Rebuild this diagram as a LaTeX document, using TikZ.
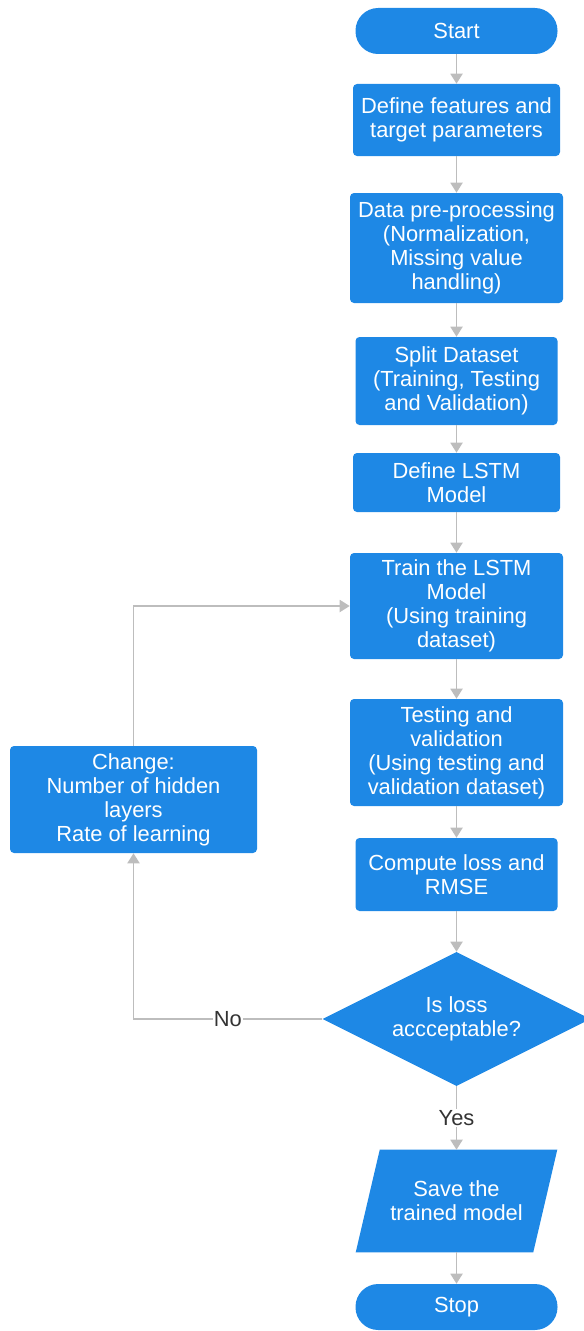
\documentclass[tikz,border=0pt]{standalone}
\usepackage{fontspec}
\setmainfont{Liberation Sans}
\usetikzlibrary{shapes.geometric,arrows.meta,backgrounds,calc}
\definecolor{fcblue}{HTML}{1E88E5}
\definecolor{fcline}{HTML}{BDBDBD}
\definecolor{fctext}{HTML}{333333}
\begin{document}
\begin{tikzpicture}[x=0.75pt,y=-0.75pt,
  txt/.style={font=\fontsize{16.4}{18}\selectfont},
  box/.style={txt, fill=fcblue, text=white, rounded corners=3pt, align=center, inner sep=0pt},
  term/.style={box, rounded corners=17pt},
  dec/.style={txt, diamond, aspect=2, fill=fcblue, text=white, align=center, inner sep=0pt},
  io/.style={txt, text=white, align=center, inner sep=0pt},
  arr/.style={draw=fcline, line width=1.4pt, -{Triangle[width=9pt,length=7.5pt]}},
  lbl/.style={txt, fill=white, text=fctext, inner sep=1pt}]
\useasboundingbox (0,0) rectangle (584,1331);

\node[term, minimum width=151.5pt, minimum height=34.5pt] (start) at (456.5,31) {Start};
\node[box, minimum width=155.25pt, minimum height=54pt] (feat) at (456.5,120) {Define features and\\target parameters};
\node[box, minimum width=159.75pt, minimum height=82.5pt] (prep) at (456.5,248) {Data pre-processing\\(Normalization,\\Missing value\\handling)};
\node[box, minimum width=151.5pt, minimum height=66pt] (split) at (456.5,381) {Split Dataset\\(Training, Testing\\and Validation)};
\node[box, minimum width=155.25pt, minimum height=44.25pt] (lstm) at (456.5,482.5) {Define LSTM\\Model};
\node[box, minimum width=159.75pt, minimum height=79.5pt] (train) at (456.5,606) {Train the LSTM\\Model\\(Using training\\dataset)};
\node[box, minimum width=159.75pt, minimum height=80.25pt] (test) at (456.5,752.5) {Testing and\\validation\\(Using testing and\\validation dataset)};
\node[box, minimum width=151.5pt, minimum height=54.75pt] (loss) at (456.5,874.5) {Compute loss and\\RMSE};
\node[dec, minimum width=201pt, minimum height=100.5pt] (dec) at (456.5,1019) {Is loss\\accceptable?};
\node[io, minimum width=150.75pt, minimum height=76.5pt] (save) at (456.5,1201) {Save the\\trained model};
\node[term, minimum width=151.5pt, minimum height=34.5pt] (stop) at (456.5,1307) {Stop};
\node[box, minimum width=185.25pt, minimum height=80.25pt] (chg) at (133.5,799.5) {Change:\\Number of hidden\\layers\\Rate of learning};

\begin{scope}[on background layer]
  \fill[fcblue] ($(save.north west)+(24,0)$) -- (save.north east) -- ($(save.south east)+(-24,0)$) -- (save.south west) -- cycle;
\end{scope}

\draw[arr] (start) -- (feat);
\draw[arr] (feat) -- (prep);
\draw[arr] (prep) -- (split);
\draw[arr] (split) -- (lstm);
\draw[arr] (lstm) -- (train);
\draw[arr] (train) -- (test);
\draw[arr] (test) -- (loss);
\draw[arr] (loss) -- (dec);
\draw[arr] (dec.south) -- node[lbl] {Yes} (save.north);
\draw[arr] (save) -- (stop);
\draw[arr] (dec.west) -- node[lbl] {No} (dec.west -| chg.south) -- (chg.south);
\draw[arr] (chg.north) |- (train.west);
\end{tikzpicture}
\end{document}
